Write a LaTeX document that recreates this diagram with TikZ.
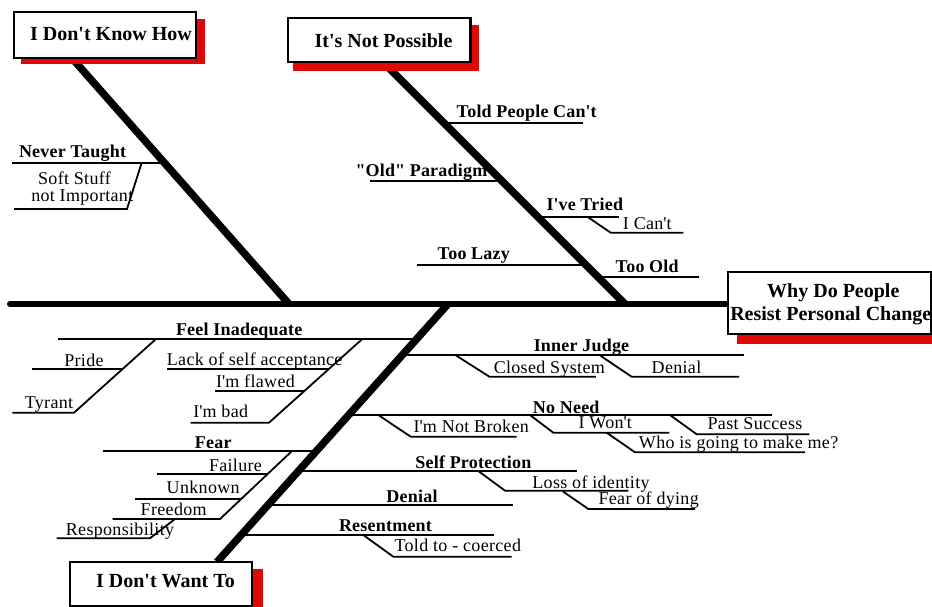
\documentclass[tikz,border=0pt]{standalone}
\usepackage{fontspec}
\setmainfont{Liberation Serif}
\newcommand{\ap}{\textquotesingle}
\definecolor{shadowred}{RGB}{222,8,8}
\begin{document}
\begin{tikzpicture}[x=1pt,y=-1pt,
  spine/.style={line width=6pt,line cap=round},
  bone/.style={line width=7.5pt},
  twig/.style={line width=1.8pt},
  tbox/.style={draw,line width=2.4pt,fill=white,inner sep=0pt,anchor=north west},
  shadowbox/.style={fill=shadowred},
  title/.style={font=\fontsize{20}{22}\selectfont\bfseries,inner sep=0pt,anchor=base},
  lblb/.style={font=\fontsize{18}{20}\selectfont\bfseries\addfontfeatures{LetterSpace=1.2},inner sep=0pt,anchor=base},
  lbl/.style={font=\fontsize{18}{20}\selectfont\addfontfeatures{LetterSpace=1.8},inner sep=0pt,anchor=base}]
\useasboundingbox (0,0) rectangle (932,607);

% named points of the skeleton
\coordinate (tail) at (10,304);
\coordinate (head) at (727,304);
\coordinate (b1top) at (71,57);
\coordinate (b1foot) at (289,304);
\coordinate (b2top) at (382,61);
\coordinate (b2foot) at (625,304);
\coordinate (b3top) at (448,304);
\coordinate (b3foot) at (217,562);

% main bones
\draw[spine] (tail) -- (head);
\draw[bone] (b1top) -- (b1foot);
\draw[bone] (b2top) -- (b2foot);
\draw[bone] (b3top) -- (b3foot);

% shadows and boxes
\fill[shadowbox] (21,19) rectangle (204.7,64.3);
\node[tbox,minimum width=182.3pt,minimum height=46pt] (knowbox) at (12.7,10.7) {};
\fill[shadowbox] (293.3,25) rectangle (479,70.7);
\node[tbox,minimum width=182.6pt,minimum height=44.3pt] (possbox) at (286.7,16.7) {};
\fill[shadowbox] (80,569) rectangle (262.7,607);
\node[tbox,minimum width=181.7pt,minimum height=44.3pt] (wantbox) at (69,560.7) {};
\fill[shadowbox] (736.7,281) rectangle (932,344.3);
\node[tbox,minimum width=203.3pt,minimum height=61.7pt] (whybox) at (726.7,271) {};

\node[title] (tknow) at (111,41) {I Don\ap t Know How};
\node[title] (tposs) at (383.5,47.5) {It\ap s Not Possible};
\node[title] (twant) at (165.5,587) {I Don\ap t Want To};
\node[title] (twhy1) at (833.3,297) {Why Do People};
\node[title] (twhy2) at (830.8,320) {Resist Personal Change};

% ---- bone 1: I Don't Know How
\draw[twig] (12,162.7) -- (164,162.7);
\draw[twig] (141.7,162.7) -- (127,209) -- (14,209);
\node[lblb] (never) at (72.5,157.5) {Never Taught};
\node[lbl] (soft1) at (74.5,184) {Soft Stuff};
\node[lbl] (soft2) at (82.3,201.5) {not Important};

% ---- bone 2: It's Not Possible
\draw[twig] (443,122.7) -- (583.3,122.7);
\draw[twig] (370,181) -- (501,181);
\draw[twig] (537,216.7) -- (619.3,216.7);
\draw[twig] (587.3,216.7) -- (610.7,232.7) -- (683.3,232.7);
\draw[twig] (416.7,265) -- (585,265);
\draw[twig] (596,276.7) -- (699.3,276.7);
\node[lblb] (told) at (526.7,117.5) {Told People Can\ap t};
\node[lblb] (old) at (421.5,177) {\textquotedbl Old\textquotedbl{} Paradigm};
\node[lblb] (tried) at (584.8,211) {I\ap ve Tried};
\node[lbl] (icant) at (647.3,229.5) {I Can\ap t};
\node[lblb] (lazy) at (473.8,259.5) {Too Lazy};
\node[lblb] (oldage) at (647.2,272) {Too Old};

% ---- bone 3 left: Feel Inadequate, Fear
\draw[twig] (58,339) -- (417,339);
\draw[twig] (156,339) -- (74,412.7) -- (12.3,412.7);
\draw[twig] (32.3,369) -- (122.6,369);
\draw[twig] (362.3,339) -- (269,422.7) -- (190.7,422.7);
\draw[twig] (166.7,369) -- (329,369);
\draw[twig] (215,390.7) -- (304.7,390.7);
\node[lblb] (feel) at (239.2,335.5) {Feel Inadequate};
\node[lbl] (pride) at (84,366.5) {Pride};
\node[lbl] (tyrant) at (49,408.5) {Tyrant};
\node[lbl] (lack) at (254.7,365.5) {Lack of self acceptance};
\node[lbl] (flawed) at (255.5,387.5) {I\ap m flawed};
\node[lbl] (bad) at (220.8,417) {I\ap m bad};

\draw[twig] (102.7,450.7) -- (316,450.7);
\draw[twig] (292.3,450.7) -- (220,519) -- (112.7,519);
\draw[twig] (156.7,474.3) -- (268.3,474.3);
\draw[twig] (135,499) -- (242.3,499);
\draw[twig] (175,519) -- (150,538.3) -- (56.7,538.3);
\node[lblb] (fear) at (213.3,448.5) {Fear};
\node[lbl] (failure) at (235.5,471) {Failure};
\node[lbl] (unknown) at (203.2,493.5) {Unknown};
\node[lbl] (freedom) at (173.7,515.5) {Freedom};
\node[lbl] (resp) at (120,535.5) {Responsibility};

% ---- bone 3 right
\draw[twig] (403,355) -- (743.5,355);
\draw[twig] (455.3,355) -- (489.4,376.7) -- (595.8,376.7);
\draw[twig] (599.4,355) -- (631.6,376.7) -- (739.2,376.7);
\node[lblb] (judge) at (581.5,351) {Inner Judge};
\node[lbl] (closed) at (549.3,373.5) {Closed System};
\node[lbl] (denial1) at (676.5,373.5) {Denial};

\draw[twig] (348,415) -- (771.7,415);
\draw[twig] (378.3,415) -- (410.7,436.7) -- (516.7,436.7);
\draw[twig] (530,415) -- (553.3,432.7) -- (669.3,432.7);
\draw[twig] (606.7,432.7) -- (635,452.3) -- (805,452.3);
\draw[twig] (670,415) -- (696.7,434.3) -- (809.3,434.3);
\node[lblb] (noneed) at (566.2,413) {No Need};
\node[lbl] (broken) at (471.3,432) {I\ap m Not Broken};
\node[lbl] (wont) at (605.3,428.5) {I Won\ap t};
\node[lbl] (past) at (755,429.5) {Past Success};
\node[lbl] (who) at (738.6,448.5) {Who is going to make me?};

\draw[twig] (297.6,471) -- (577.3,471);
\draw[twig] (478.3,471) -- (505,490.7) -- (628.3,490.7);
\draw[twig] (563,491.5) -- (588.3,509) -- (695,509);
\node[lblb] (selfp) at (473.4,468) {Self Protection};
\node[lbl] (loss) at (591,488.5) {Loss of identity};
\node[lbl] (dying) at (648.7,504.5) {Fear of dying};

\draw[twig] (267,505) -- (513.3,505);
\node[lblb] (denial2) at (412,502.5) {Denial};

\draw[twig] (240,535) -- (493.7,535);
\draw[twig] (363.3,535) -- (393.3,556.7) -- (511.6,556.7);
\node[lblb] (resent) at (385.5,531) {Resentment};
\node[lbl] (coerced) at (457.8,551) {Told to - coerced};
\end{tikzpicture}
\end{document}
